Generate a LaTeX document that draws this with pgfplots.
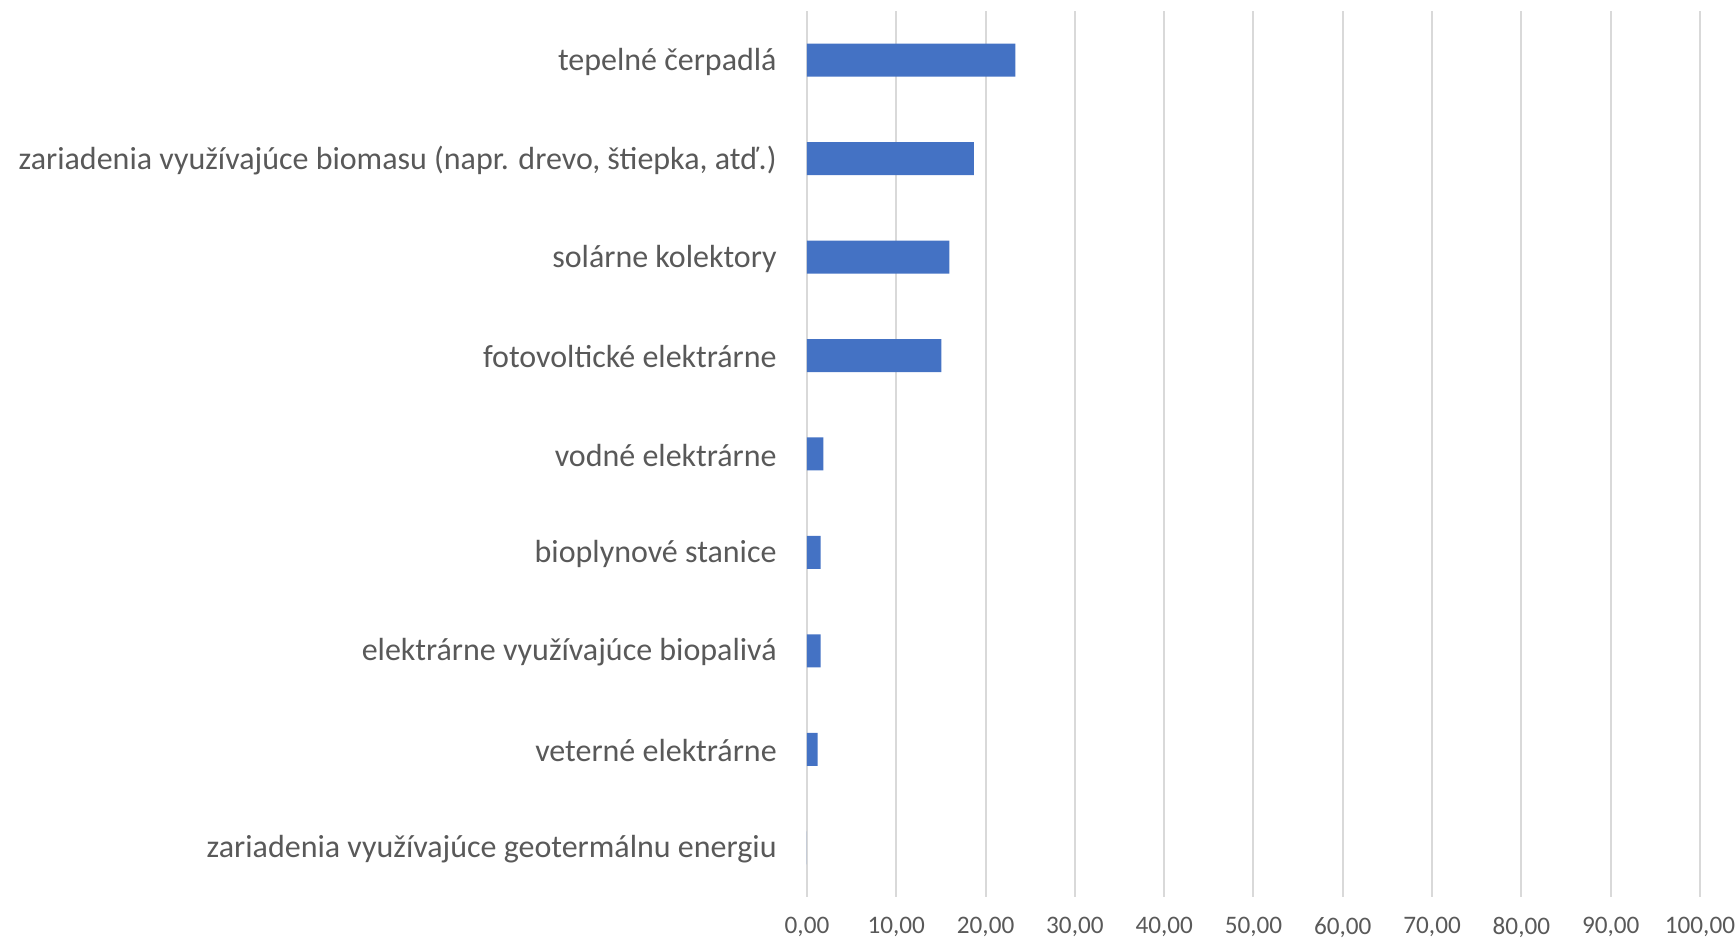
\documentclass[border=0pt]{standalone}
\usepackage{pgfplots}
\pgfplotsset{compat=1.18}
\usepackage{fontspec}
\setmainfont{Carlito}
\definecolor{barblue}{HTML}{4472C4}
\definecolor{gridgray}{HTML}{D9D9D9}
\definecolor{txtgray}{HTML}{595959}
\begin{document}
\begin{tikzpicture}
\begin{axis}[
  name=ax,
  xbar,
  scale only axis,
  width=446.5pt, height=443pt,
  xmin=0, xmax=100,
  ymin=-0.5, ymax=8.5,
  xtick={0,10,...,100},
  ytick={0,...,8},
  yticklabels={
    zariadenia využívajúce geotermálnu energiu,
    veterné elektrárne,
    elektrárne využívajúce biopalivá,
    bioplynové stanice,
    vodné elektrárne,
    fotovoltické elektrárne,
    solárne kolektory,
    {zariadenia využívajúce biomasu (napr. drevo, štiepka, atď.)},
    tepelné čerpadlá},
  bar width=16.5pt,
  axis line style={draw=none},
  major tick length=0pt,
  xmajorgrids,
  grid style={gridgray, line width=1pt},
  /pgf/number format/assume math mode=true,
  xticklabel={\pgfmathprintnumber[fixed,fixed zerofill,precision=2,use comma]{\tick}},
  xticklabel style={font=\fontsize{12.6}{15}\selectfont, text=txtgray, inner sep=0pt, yshift=-9.8pt, anchor=north},
  yticklabel style={font=\fontsize{16}{19}\selectfont, text=txtgray, inner sep=0pt, xshift=-15pt, yshift=-0.7pt, anchor=east},
]
\addplot[fill=barblue, draw=none] coordinates {
  (0,0) (1.20,1) (1.53,2) (1.53,3) (1.83,4) (15.05,5) (15.94,6) (18.70,7) (23.33,8)
};
\end{axis}
\path ([shift={(-403.5pt,-21pt)}]ax.south west) rectangle ([shift={(18pt,5.5pt)}]ax.north east);
\end{tikzpicture}
\end{document}
